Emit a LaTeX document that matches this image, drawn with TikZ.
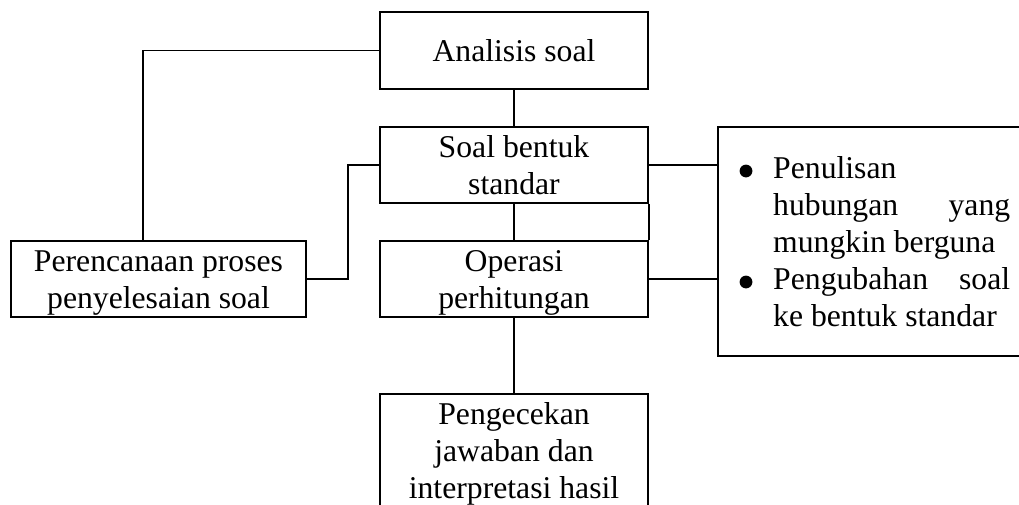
\documentclass[tikz,border=0pt]{standalone}
\usepackage{fontspec}
\setmainfont{Liberation Serif}
\newcommand\bx{\rule[-8pt]{0pt}{37pt}}
\tikzset{
  every node/.style={font=\fontsize{31.7}{37}\selectfont},
  boxnode/.style={draw, line width=1.5pt, inner sep=0pt, align=center,
    minimum width=268pt, minimum height=76pt},
  conn/.style={line width=1.5pt},
  bulletdot/.style={fill=black}
}
\begin{document}
\begin{tikzpicture}[x=1pt,y=-1pt]
\useasboundingbox (0,0) rectangle (1019,504);
\fill[white] (0,0) rectangle (1019,504);
\clip (0,0) rectangle (1019,504);
\node[boxnode, minimum height=77pt] (ana) at (514,50.5) {\bx Analisis soal};
\node[boxnode] (sbs) at (514,165) {\bx Soal bentuk\\\bx standar};
\node[boxnode] (ope) at (514,279) {\bx Operasi\\\bx perhitungan};
\node[boxnode, minimum height=113pt] (pen) at (514,450.5) {\bx Pengecekan\\\bx jawaban dan\\\bx interpretasi hasil};
\node[boxnode, minimum width=295pt] (pln) at (158.5,279) {\bx Perencanaan proses\\\bx penyelesaian soal};
\node[draw, line width=1.5pt, inner sep=0pt, minimum width=330pt, minimum height=229pt] (rbox) at (883,241.5) {};
\node[anchor=north west, inner sep=0pt, align=left] (rtxt) at (773,149) {%
\bx Penulisan\\
\bx\makebox[237pt][s]{hubungan yang}\\
\bx mungkin berguna\\
\bx\makebox[237pt][s]{Pengubahan soal}\\
\bx ke bentuk standar};
\fill[bulletdot] (746,171) circle[radius=6.4pt];
\fill[bulletdot] (746,282) circle[radius=6.4pt];
\coordinate (plnup) at ([xshift=-15.5pt]pln.north);
\draw[conn] (ana.west) -| (plnup);
\draw[conn] (pln.east) -- ++(41,0) |- (sbs.west);
\draw[conn] (ana.south) -- (sbs.north);
\draw[conn] (sbs.south) -- (ope.north);
\draw[conn] (ope.south) -- (pen.north);
\draw[conn] (sbs.south east) -- (ope.north east);
\draw[conn] (sbs.east) -- (rbox.west |- sbs.east);
\draw[conn] (ope.east) -- (rbox.west |- ope.east);
\end{tikzpicture}
\end{document}
